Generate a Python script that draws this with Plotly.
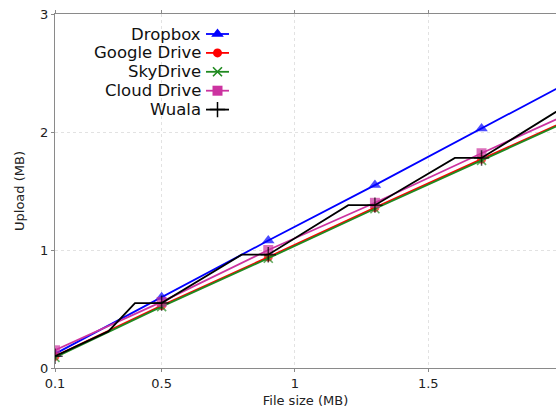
import plotly.graph_objects as go

# ---- data ----
x_sizes = [0.1, 0.5, 0.9, 1.3, 1.7, 2.1]
dropbox = [0.12, 0.60, 1.08, 1.55, 2.03, 2.51]
google_drive = [0.10, 0.53, 0.94, 1.36, 1.77, 2.18]
skydrive = [0.09, 0.52, 0.93, 1.35, 1.76, 2.17]
cloud_drive = [0.15, 0.56, 1.00, 1.40, 1.82, 2.23]
wuala_x = [0.1, 0.3, 0.4, 0.5, 0.8, 0.9, 1.2, 1.3, 1.6, 1.7, 2.0, 2.1]
wuala_y = [0.10, 0.31, 0.55, 0.55, 0.96, 0.96, 1.38, 1.38, 1.78, 1.78, 2.20, 2.20]

x_ticks = [0.1, 0.5, 1, 1.5, 2]
x_tick_labels = ["0.1", "0.5", "1", "1.5", "2"]
y_ticks = [0, 1, 2, 3]

# ---- layout constants (pixels) ----
W, H = 556, 409
ML, MT, MR, MB = 55, 14, 0, 41
PW, PH = W - ML - MR, H - MT - MB
FONT = "DejaVu Sans"

series = [
    ("Dropbox", x_sizes, dropbox, "#0000ff", "triangle-up", 11, None),
    ("Google Drive", x_sizes, google_drive, "#ff0000", "circle", 9, None),
    ("SkyDrive", x_sizes, skydrive, "#208a20", "x-thin", 9, 1.6),
    ("Cloud Drive", x_sizes, cloud_drive, "#cc33a0", "square", 10, None),
    ("Wuala", wuala_x, wuala_y, "#000000", "cross-thin", 11, 1.5),
]

fig = go.Figure()
for name, xs, ys, color, sym, size, lw in series:
    sizes = [size if x in x_sizes else 0 for x in xs]
    marker = dict(symbol=sym, size=sizes, color=color, line=dict(color=color, width=lw or 0))
    fig.add_trace(go.Scatter(x=xs, y=ys, mode="lines+markers", name=name,
                             line=dict(color=color, width=1.8), marker=marker,
                             showlegend=False, cliponaxis=True))

# ---- custom legend: text then sample (matplotlib markerfirst=False style) ----
text_right_px = 203
sample_x0_px, sample_x1_px = 206, 229
row0_px, row_step = 34, 18.9
annotations = []
shapes = []
for i, (name, xs, ys, color, sym, size, lw) in enumerate(series):
    ypx = row0_px + i * row_step
    yf = 1 - (ypx - MT) / PH
    annotations.append(dict(text=name, xref="paper", yref="paper",
                            x=(text_right_px - ML) / PW, y=yf, xanchor="right",
                            yanchor="middle", showarrow=False,
                            font=dict(family=FONT, size=16.5, color="#111")))
    shapes.append(dict(type="line", xref="paper", yref="paper",
                       x0=(sample_x0_px - ML) / PW, x1=(sample_x1_px - ML) / PW,
                       y0=yf, y1=yf, line=dict(color=color, width=1.8)))
    fig.add_trace(go.Scatter(x=[((sample_x0_px + sample_x1_px) / 2 - ML) / PW], y=[yf],
                             xaxis="x2", yaxis="y2", mode="markers", showlegend=False,
                             hoverinfo="skip",
                             marker=dict(symbol=sym, size=size, color=color,
                                         line=dict(color=color, width=lw or 0))))

axis_col = "#8a8a8a"
grid_col = "#e2e2e2"
fig.update_layout(
    width=W, height=H,
    margin=dict(l=ML, r=MR, t=MT, b=MB, pad=0),
    paper_bgcolor="white", plot_bgcolor="white",
    font=dict(family=FONT, size=13, color="#222"),
    xaxis=dict(range=[0.1, 0.1 + PW / 266.6], tickvals=x_ticks, ticktext=x_tick_labels,
               showline=True, linecolor=axis_col, linewidth=1, mirror="ticks",
               ticks="outside", ticklen=3, tickcolor=axis_col,
               showgrid=True, gridcolor=grid_col, griddash="dot", gridwidth=1,
               zeroline=False,
               title=dict(text="File size (MB)", font=dict(size=13), standoff=6)),
    yaxis=dict(range=[0, 3], tickvals=y_ticks, showline=True, linecolor=axis_col,
               linewidth=1, mirror=False, ticks="outside", ticklen=3, tickcolor=axis_col,
               showgrid=True, gridcolor=grid_col, griddash="dot", gridwidth=1,
               zeroline=False,
               title=dict(text="Upload (MB)", font=dict(size=13), standoff=12)),
    xaxis2=dict(range=[0, 1], overlaying="x", visible=False, fixedrange=True),
    yaxis2=dict(range=[0, 1], overlaying="y", visible=False, fixedrange=True),
    annotations=annotations,
    shapes=shapes,
)

fig.write_html("out.html")
